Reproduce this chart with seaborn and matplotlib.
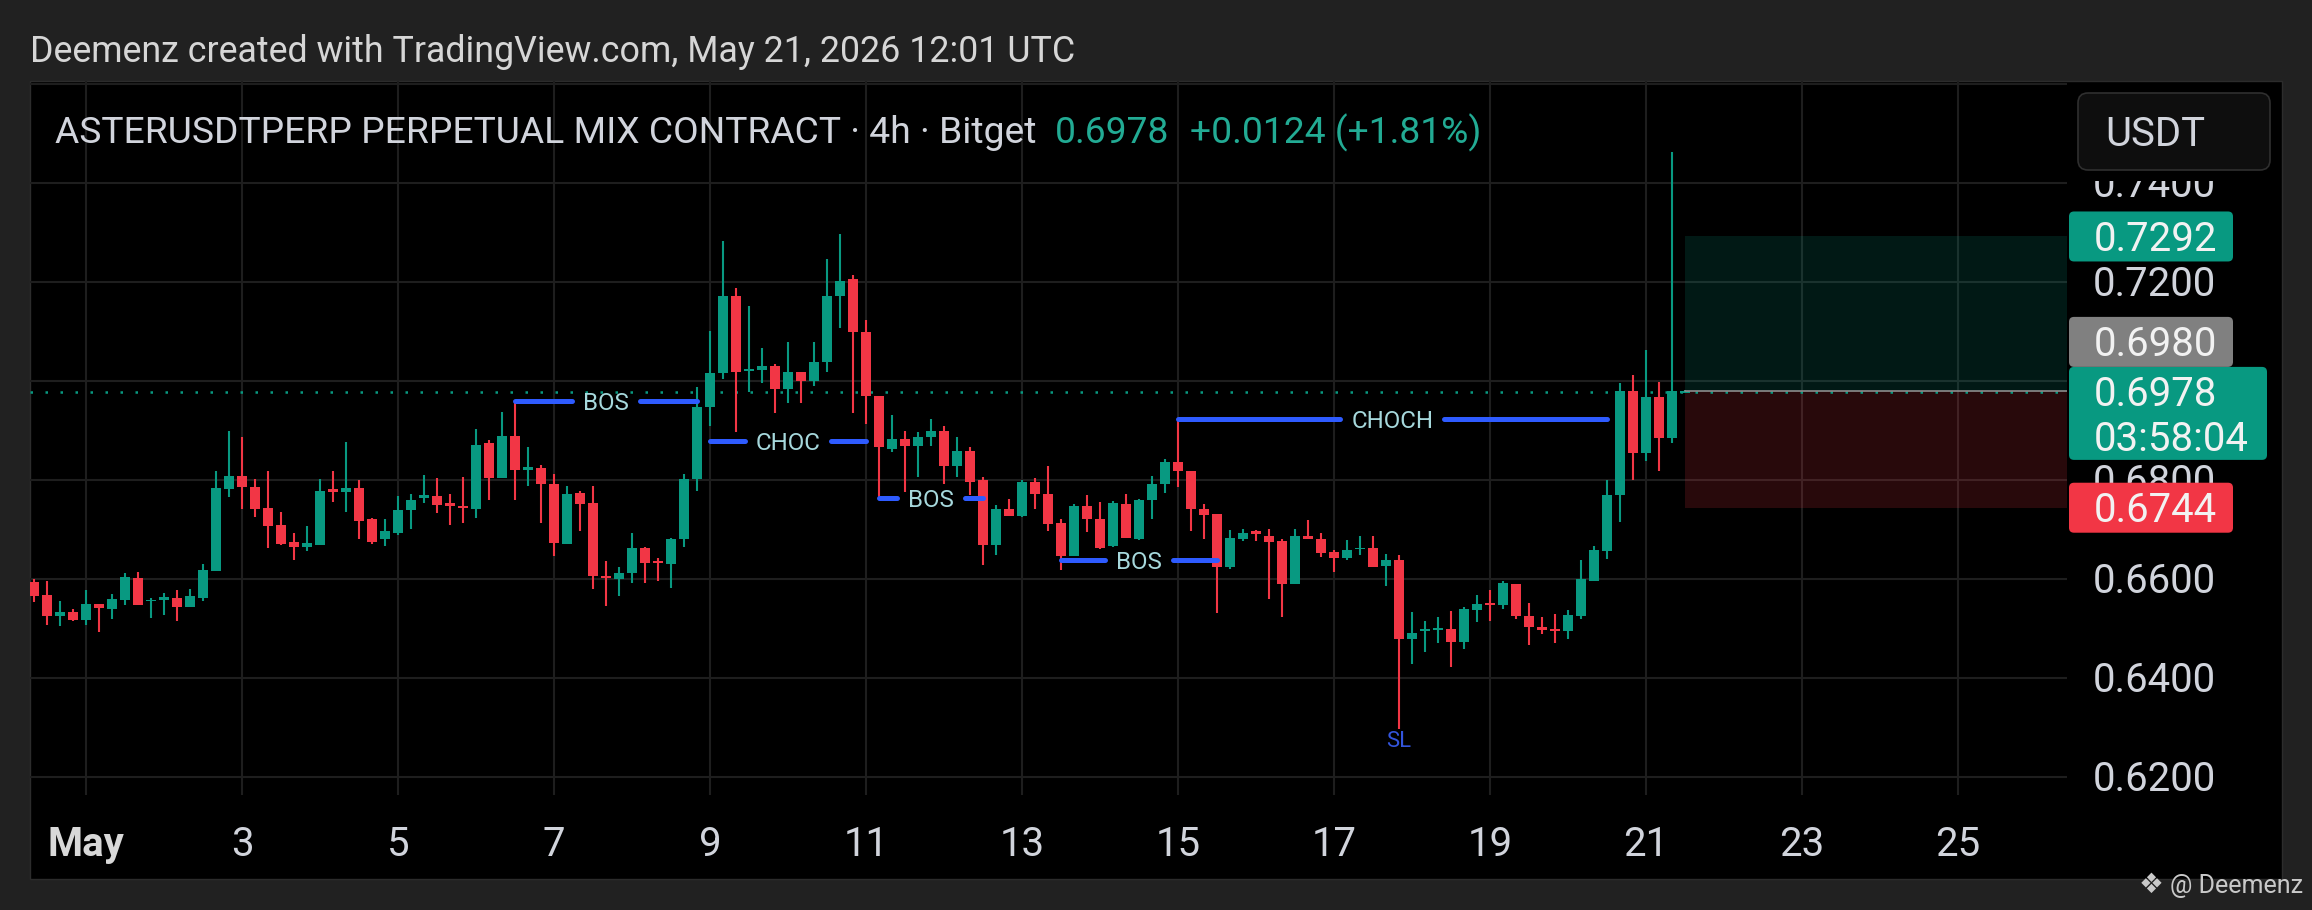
import numpy as np
import pandas as pd
import matplotlib
matplotlib.use("Agg")
import matplotlib.pyplot as plt
import seaborn as sns
from matplotlib.patches import Rectangle, FancyBboxPatch
from matplotlib.transforms import Affine2D, Bbox, blended_transform_factory

# ------------------------------------------------------------------ data
candle_start = "2026-04-30 08:00"   # first 4h candle
opens = [0.6593, 0.6568, 0.6525, 0.6533, 0.6518, 0.6550, 0.6539, 0.6558, 0.6603, 0.6555,
         0.6557, 0.6561, 0.6543, 0.6561, 0.6616, 0.6781, 0.6809, 0.6786, 0.6743, 0.6710,
         0.6675, 0.6665, 0.6669, 0.6781, 0.6775, 0.6783, 0.6721, 0.6680, 0.6693, 0.6740,
         0.6764, 0.6767, 0.6753, 0.6748, 0.6741, 0.6874, 0.6805, 0.6888, 0.6821, 0.6824,
         0.6792, 0.6671, 0.6774, 0.6753, 0.6607, 0.6600, 0.6612, 0.6663, 0.6636, 0.6631,
         0.6680, 0.6802, 0.6947, 0.7016, 0.7172, 0.7020, 0.7022, 0.7030, 0.6983, 0.7018,
         0.7000, 0.7038, 0.7171, 0.7206, 0.7100, 0.6970, 0.6862, 0.6882, 0.6869, 0.6887,
         0.6898, 0.6829, 0.6859, 0.6799, 0.6669, 0.6742, 0.6727, 0.6796, 0.6772, 0.6714,
         0.6646, 0.6747, 0.6722, 0.6666, 0.6751, 0.6680, 0.6759, 0.6792, 0.6836, 0.6819,
         0.6742, 0.6731, 0.6624, 0.6680, 0.6696, 0.6687, 0.6676, 0.6589, 0.6687, 0.6680,
         0.6654, 0.6642, 0.6660, 0.6662, 0.6626, 0.6639, 0.6478, 0.6494, 0.6496, 0.6498,
         0.6472, 0.6538, 0.6552, 0.6547, 0.6590, 0.6526, 0.6504, 0.6499, 0.6494, 0.6526,
         0.6596, 0.6656, 0.6769, 0.6979, 0.6854, 0.6967, 0.6884, 0.6976]
highs = [0.6599, 0.6596, 0.6555, 0.6539, 0.6578, 0.6550, 0.6570, 0.6613, 0.6614, 0.6561,
         0.6571, 0.6577, 0.6580, 0.6630, 0.6819, 0.6899, 0.6887, 0.6803, 0.6819, 0.6736,
         0.6693, 0.6708, 0.6803, 0.6819, 0.6877, 0.6801, 0.6723, 0.6722, 0.6768, 0.6772,
         0.6810, 0.6805, 0.6772, 0.6807, 0.6904, 0.6880, 0.6937, 0.6959, 0.6867, 0.6831,
         0.6812, 0.6788, 0.6777, 0.6787, 0.6636, 0.6625, 0.6692, 0.6665, 0.6643, 0.6683,
         0.6812, 0.6988, 0.7101, 0.7282, 0.7188, 0.7151, 0.7066, 0.7035, 0.7078, 0.7018,
         0.7078, 0.7246, 0.7298, 0.7215, 0.7124, 0.6970, 0.6932, 0.6900, 0.6896, 0.6924,
         0.6909, 0.6887, 0.6866, 0.6806, 0.6749, 0.6762, 0.6799, 0.6804, 0.6829, 0.6722,
         0.6751, 0.6769, 0.6756, 0.6758, 0.6771, 0.6762, 0.6809, 0.6842, 0.6924, 0.6819,
         0.6752, 0.6731, 0.6698, 0.6702, 0.6699, 0.6700, 0.6680, 0.6702, 0.6720, 0.6692,
         0.6659, 0.6678, 0.6687, 0.6686, 0.6651, 0.6649, 0.6534, 0.6516, 0.6524, 0.6536,
         0.6544, 0.6567, 0.6578, 0.6596, 0.6590, 0.6551, 0.6524, 0.6529, 0.6538, 0.6639,
         0.6667, 0.6800, 0.6995, 0.7012, 0.7062, 0.6998, 0.7462, 0.6982]
lows = [0.6553, 0.6508, 0.6506, 0.6516, 0.6508, 0.6493, 0.6520, 0.6547, 0.6548, 0.6521,
        0.6528, 0.6516, 0.6543, 0.6556, 0.6616, 0.6765, 0.6741, 0.6726, 0.6663, 0.6668,
        0.6638, 0.6657, 0.6669, 0.6755, 0.6735, 0.6680, 0.6671, 0.6667, 0.6688, 0.6700,
        0.6753, 0.6733, 0.6710, 0.6713, 0.6723, 0.6760, 0.6805, 0.6760, 0.6787, 0.6713,
        0.6647, 0.6670, 0.6696, 0.6579, 0.6545, 0.6566, 0.6592, 0.6592, 0.6596, 0.6582,
        0.6665, 0.6777, 0.6909, 0.7005, 0.6896, 0.6978, 0.6995, 0.6936, 0.6955, 0.6956,
        0.6990, 0.7018, 0.7108, 0.6936, 0.6913, 0.6766, 0.6856, 0.6776, 0.6806, 0.6869,
        0.6792, 0.6806, 0.6769, 0.6629, 0.6649, 0.6727, 0.6726, 0.6742, 0.6696, 0.6619,
        0.6646, 0.6694, 0.6660, 0.6664, 0.6682, 0.6678, 0.6722, 0.6774, 0.6786, 0.6696,
        0.6680, 0.6532, 0.6620, 0.6676, 0.6676, 0.6560, 0.6524, 0.6589, 0.6680, 0.6644,
        0.6614, 0.6639, 0.6649, 0.6624, 0.6586, 0.6296, 0.6429, 0.6452, 0.6471, 0.6422,
        0.6459, 0.6514, 0.6516, 0.6540, 0.6519, 0.6467, 0.6489, 0.6471, 0.6478, 0.6519,
        0.6596, 0.6640, 0.6716, 0.6799, 0.6838, 0.6819, 0.6875, 0.6975]
closes = [0.6566, 0.6525, 0.6533, 0.6518, 0.6550, 0.6541, 0.6560, 0.6605, 0.6548, 0.6558,
          0.6563, 0.6543, 0.6565, 0.6618, 0.6783, 0.6809, 0.6785, 0.6741, 0.6708, 0.6671,
          0.6665, 0.6673, 0.6778, 0.6775, 0.6783, 0.6718, 0.6675, 0.6696, 0.6740, 0.6760,
          0.6770, 0.6750, 0.6748, 0.6743, 0.6871, 0.6805, 0.6888, 0.6821, 0.6826, 0.6792,
          0.6673, 0.6772, 0.6752, 0.6606, 0.6602, 0.6612, 0.6663, 0.6633, 0.6633, 0.6681,
          0.6802, 0.6948, 0.7016, 0.7172, 0.7018, 0.7023, 0.7030, 0.6983, 0.7018, 0.7000,
          0.7038, 0.7172, 0.7203, 0.7100, 0.6970, 0.6866, 0.6882, 0.6869, 0.6887, 0.6898,
          0.6829, 0.6859, 0.6796, 0.6669, 0.6742, 0.6727, 0.6796, 0.6772, 0.6712, 0.6646,
          0.6747, 0.6722, 0.6662, 0.6754, 0.6682, 0.6760, 0.6791, 0.6836, 0.6819, 0.6742,
          0.6729, 0.6624, 0.6682, 0.6692, 0.6691, 0.6674, 0.6589, 0.6687, 0.6680, 0.6652,
          0.6642, 0.6658, 0.6662, 0.6624, 0.6639, 0.6478, 0.6491, 0.6499, 0.6502, 0.6472,
          0.6539, 0.6549, 0.6547, 0.6592, 0.6526, 0.6504, 0.6496, 0.6494, 0.6527, 0.6599,
          0.6658, 0.6769, 0.6980, 0.6854, 0.6967, 0.6884, 0.6980, 0.6978]

axis_prices = [0.62, 0.64, 0.66, 0.68, 0.70, 0.72, 0.74, 0.76]
date_ticks = ["2026-05-01", "2026-05-03", "2026-05-05", "2026-05-07", "2026-05-09",
              "2026-05-11", "2026-05-13", "2026-05-15", "2026-05-17", "2026-05-19",
              "2026-05-21", "2026-05-23", "2026-05-25"]
date_labels = ["May", "3", "5", "7", "9", "11", "13", "15", "17", "19", "21", "23", "25"]

structure_labels = ["BOS", "CHOC", "BOS", "BOS", "CHOCH"]
structure_levels = [0.6959, 0.6879, 0.6764, 0.6639, 0.6924]
structure_start = ["2026-05-06 12:00", "2026-05-09 00:00", "2026-05-11 04:00",
                   "2026-05-13 12:00", "2026-05-15 00:00"]
structure_end = ["2026-05-08 20:00", "2026-05-11 00:00", "2026-05-12 12:00",
                 "2026-05-15 12:00", "2026-05-20 12:00"]
sl_time = "2026-05-17 20:00"

target_price = 0.7292
entry_price = 0.6980
stop_price = 0.6744
last_price = 0.6978
countdown = "03:58:04"
position_start = "2026-05-21 12:00"
position_end = "2026-05-26 20:00"

credit_text = "Deemenz created with TradingView.com, May 21, 2026 12:01 UTC"
symbol_text = "ASTERUSDTPERP PERPETUAL MIX CONTRACT · 4h · Bitget"
price_text = "0.6978"
change_text = "+0.0124 (+1.81%)"
currency_text = "USDT"
watermark_text = "@ Deemenz"

# ------------------------------------------------------------------ style
sns.set_theme(style="dark")
plt.rcParams["font.family"] = ["Roboto", "DejaVu Sans"]

BG = "#212121"
PANEL = "#000000"
UP = "#089981"
DOWN = "#f23645"
GRID = "#1e1e1e"
TXT = "#d1d4dc"
BLUE = "#2e5bff"
STXT = "#a6d8dc"
HEAD_GREEN = "#22ab94"

W, H = 2312, 910
fig = plt.figure(figsize=(W / 100, H / 100), dpi=100, facecolor=BG)
PX = Affine2D().scale(1 / W, -1 / H).translate(0, 1) + fig.transFigure
renderer = fig.canvas.get_renderer()

# panel
fig.add_artist(Rectangle((30, 81), 2252, 798, transform=PX, facecolor=PANEL,
                         edgecolor="#2c2c2c", linewidth=1.0, zorder=-1))

ax = fig.add_axes([30 / W, 1 - 795 / H, 2037 / W, 714 / H])
ax.set_facecolor("none")
for s in ax.spines.values():
    s.set_visible(False)

t0 = pd.Timestamp(candle_start)
bar = pd.Timedelta(hours=4)


def bar_index(t):
    return (pd.Timestamp(t) - t0) / bar


o = np.array(opens)
h = np.array(highs)
l = np.array(lows)
c = np.array(closes)
x = np.arange(len(o))

ax.set_xlim(-0.31, 156.4)
ax.set_ylim(0.61636, 0.76061)

# grid
xt = [bar_index(d) for d in date_ticks]
ax.set_xticks(xt)
ax.set_yticks(axis_prices)
ax.tick_params(length=0, labelleft=False, labelbottom=False)
ax.grid(True, color=GRID, linewidth=1.5)
ax.set_axisbelow(True)

# candles
col = np.where(c >= o, UP, DOWN)
ax.vlines(x, l, h, colors=col, linewidth=1.5, zorder=2)
body_lo = np.minimum(o, c)
body_h = np.maximum(np.abs(c - o), 0.00035)
ax.bar(x, body_h, bottom=body_lo, width=0.76, color=col, linewidth=0, zorder=3)

# position tool
ps, pe = bar_index(position_start), bar_index(position_end)
ax.add_patch(Rectangle((ps, entry_price), pe - ps, target_price - entry_price,
                       facecolor=UP, alpha=0.17, linewidth=0, zorder=1.5))
ax.add_patch(Rectangle((ps, stop_price), pe - ps, entry_price - stop_price,
                       facecolor=DOWN, alpha=0.17, linewidth=0, zorder=1.5))
sns.lineplot(x=[ps, pe], y=[entry_price, entry_price], ax=ax, color="#8c8c8c",
             linewidth=1.2, zorder=4, legend=False, estimator=None)

# current price dotted line
xl = ax.get_xlim()
sns.lineplot(x=[xl[0], xl[1]], y=[last_price, last_price], ax=ax, color=UP,
             linewidth=1.8, linestyle=(0, (1, 5)), zorder=1.8, legend=False, estimator=None)
ax.set_xlim(xl)
ax.set_xlabel("")
ax.set_ylabel("")


def ypx(p):
    return H - ax.transData.transform((0, p))[1]


def fit(t, width):
    w = t.get_window_extent(renderer).width
    t.set_fontsize(t.get_fontsize() * width / w)
    return t


px_per_bar = ax.transData.transform((1, 0))[0] - ax.transData.transform((0, 0))[0]

# structure lines with labels
st_texts = []
for lab, lv, s0, s1 in zip(structure_labels, structure_levels, structure_start, structure_end):
    a, b = bar_index(s0), bar_index(s1)
    mid = (a + b) / 2
    t = ax.text(mid, lv, lab, color=STXT, ha="center", va="center_baseline",
                fontsize=17, zorder=5)
    st_texts.append((t, a, b, mid, lv))
fit(st_texts[0][0], 46)
fs_st = st_texts[0][0].get_fontsize()
for t, a, b, mid, lv in st_texts:
    t.set_fontsize(fs_st)
    w = t.get_window_extent(renderer).width
    gap = (w / 2 + 11) / px_per_bar
    for xa, xb in [(a, mid - gap), (mid + gap, b)]:
        sns.lineplot(x=[xa, xb], y=[lv, lv], ax=ax, color=BLUE, linewidth=3.6,
                     solid_capstyle="round", zorder=4, legend=False, estimator=None)
ax.set_xlim(xl)
ax.set_xlabel("")
ax.set_ylabel("")

# SL label under the swing low
si = int(round(bar_index(sl_time)))
sl = ax.text(si, l[si], "SL", color="#3355dd", ha="center", va="top", fontsize=17, zorder=5)
fit(sl, 25)
sl.set_transform(ax.transData + Affine2D().translate(0, -2))

# ------------------------------------------------------------------ texts
cred = fig.text(30, 62, credit_text, transform=PX, color="#d6d6d6", fontsize=24,
                ha="left", va="baseline")
fit(cred, 1045)

sym = fig.text(55, 143, symbol_text, transform=PX, color=TXT, fontsize=24,
               ha="left", va="baseline")
fit(sym, 983)
fs_h = sym.get_fontsize()
fig.text(1055, 143, price_text, transform=PX, color=HEAD_GREEN, fontsize=fs_h,
         ha="left", va="baseline")
fig.text(1190, 143, change_text, transform=PX, color=HEAD_GREEN, fontsize=fs_h,
         ha="left", va="baseline")

# price scale font size
probe = fig.text(2093, 300, "0.7200", transform=PX, fontsize=26)
fit(probe, 123)
fs_p = probe.get_fontsize()
probe.remove()
cap = fs_p * 100 / 72 * 0.711

# price label boxes on the scale: (top, height, right, colour, lines, line centres)
yt = ypx(target_price)
ys = ypx(stop_price)
yl = ypx(last_price)
boxes = [
    (yt - 25, 50, 2233, UP, [f"{target_price:.4f}"], [yt]),
    (ys - 25, 50, 2233, DOWN, [f"{stop_price:.4f}"], [ys]),
    (yl - 25, 93, 2267, UP, [f"{last_price:.4f}", countdown], [yl, yl + 45]),
    (yl - 75, 50, 2233, "#808080", [f"{entry_price:.4f}"], [yl - 50]),
]

# axis labels (skip those fully covered by a box, clip the rest to the scale area)
scale_clip = Bbox.from_extents(2067, H - 795, 2282, H - 181)
for p in axis_prices:
    yc = ypx(p)
    if any(top <= yc <= top + hh for top, hh, *_ in boxes):
        continue
    t = fig.text(2093, yc + cap / 2, f"{p:.4f}", transform=PX, color=TXT,
                 fontsize=fs_p, ha="left", va="baseline", zorder=4)
    t.set_clip_box(scale_clip)
    t.set_clip_on(True)

# currency box
fig.add_artist(FancyBboxPatch((2078, 93), 192, 77, transform=PX,
                              boxstyle="round,pad=0,rounding_size=10",
                              facecolor="#0e0e0e", edgecolor="#2f2f2f", linewidth=1.2, zorder=6))
fig.text(2105, 132 + cap / 2, currency_text, transform=PX, color=TXT, fontsize=fs_p,
         ha="left", va="baseline", zorder=7)

for top, hh, right, color, lines, centers in boxes:
    fig.add_artist(FancyBboxPatch((2069, top), right - 2069, hh, transform=PX,
                                  boxstyle="round,pad=0,rounding_size=5",
                                  facecolor=color, edgecolor="none", zorder=6))
    for txt, yc in zip(lines, centers):
        fig.text(2094, yc + cap / 2, txt, transform=PX, color="#f2f2f2", fontsize=fs_p,
                 ha="left", va="baseline", zorder=7)

# date labels
dtrans = blended_transform_factory(ax.transData, PX)
for xv, lab in zip(xt, date_labels):
    fig.text(xv, 856, lab, transform=dtrans, color=TXT if lab != "May" else "#d8d8d8",
             fontsize=fs_p, fontweight="bold" if lab == "May" else "normal",
             ha="center", va="baseline", zorder=4)

# watermark
wm = fig.text(2170, 893, watermark_text, transform=PX, color="#c9c9c9", fontsize=18,
              ha="left", va="baseline", zorder=8)
fit(wm, 133)
fig.text(2151, 885, "❖", transform=PX, color="#c9c9c9", fontsize=20,
         family=["DejaVu Sans"], ha="center", va="center", zorder=8)

fig.savefig("out.png", dpi=100, facecolor=BG)
